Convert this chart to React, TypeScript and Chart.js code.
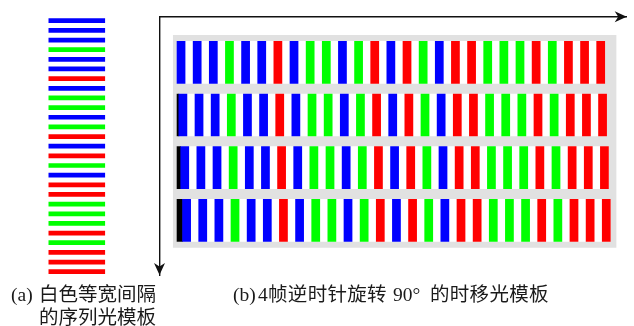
import React, { useEffect, useRef } from "react";
import { Chart, registerables } from "chart.js";

Chart.register(...registerables);

// Colour of each lit stripe in the sequence template (B = blue, G = green, R = red)
const stripeSequence = [
  "B", "B", "B", "G", "B", "B", "R", "B", "G", "G", "B", "G", "R",
  "B", "R", "G", "B", "R", "R", "G", "G", "G", "R", "G", "R", "R", "R",
];
// Frames of the time-shifted template and their shift, in stripe periods
const frames = [1, 2, 3, 4];
const frameShifts = [0, 0.115, 0.23, 0.345];
// Lit fraction of each stripe period
const stripeDuty = 0.5;

const palette: Record<string, string> = { B: "#0000ff", G: "#00ff00", R: "#ff0000" };
const FONT = '"Liberation Serif", "Noto Sans CJK SC", serif';

const axisArrows = {
  id: "axisArrows",
  afterDraw(chart: any) {
    const { ctx, chartArea: a } = chart;
    const head = (x: number, y: number, dx: number, dy: number) => {
      const L = 12, W = 5.5, N = 3.5;
      const px = -dy, py = dx;
      ctx.beginPath();
      ctx.moveTo(x, y);
      ctx.lineTo(x - dx * L + px * W, y - dy * L + py * W);
      ctx.lineTo(x - dx * (L - N), y - dy * (L - N));
      ctx.lineTo(x - dx * L - px * W, y - dy * L - py * W);
      ctx.closePath();
      ctx.fill();
    };
    ctx.save();
    ctx.fillStyle = "#111";
    head(a.right, a.top, 1, 0);
    head(a.left, a.bottom, 0, 1);
    ctx.restore();
  },
};

function SequenceTemplate() {
  const ref = useRef<HTMLCanvasElement>(null);
  useEffect(() => {
    const labels = stripeSequence.map((_, i) => String(i + 1));
    const chart = new Chart(ref.current!, {
      type: "bar",
      data: {
        labels,
        datasets: [
          {
            data: stripeSequence.map(() => [0, 1]) as any,
            backgroundColor: stripeSequence.map((c) => palette[c]),
            barPercentage: 0.49,
            categoryPercentage: 1,
          },
        ],
      },
      options: {
        indexAxis: "y",
        animation: false,
        responsive: false,
        devicePixelRatio: 1,
        events: [],
        layout: { padding: { left: 48.3, right: 528.7, top: 15.9, bottom: 49.5 } },
        plugins: { legend: { display: false }, tooltip: { enabled: false } },
        scales: {
          x: { type: "linear", min: 0, max: 1, display: false },
          y: { type: "category", display: false },
        },
      },
    });
    return () => chart.destroy();
  }, []);
  return (
    <canvas
      ref={ref}
      width={634}
      height={326}
      style={{ position: "absolute", left: 0, top: 0, pointerEvents: "none" }}
    />
  );
}

function ShiftedTemplate() {
  const ref = useRef<HTMLCanvasElement>(null);
  useEffect(() => {
    const n = stripeSequence.length;
    const stripes: any[] = [];
    const stripeColors: string[] = [];
    frames.forEach((f, i) => {
      stripeSequence.forEach((c, k) => {
        stripes.push({ x: [k + frameShifts[i], k + frameShifts[i] + stripeDuty], y: f });
        stripeColors.push(palette[c]);
      });
    });
    const rows = frames.map((f, i) => ({ x: [0, n - 1 + stripeDuty + frameShifts[i]], y: f }));
    const dark = frames
      .map((f, i) => ({ x: [0, frameShifts[i]], y: f }))
      .filter((d) => d.x[1] > 0);
    const chart = new Chart(ref.current!, {
      type: "bar",
      data: {
        datasets: [
          {
            data: [{ x: [-0.23, n + 0.2], y: (frames[0] + frames[frames.length - 1]) / 2 }] as any,
            backgroundColor: "#e1e1e1",
            barThickness: 212,
            grouped: false,
            order: 4,
          },
          {
            data: rows as any,
            backgroundColor: "#ffffff",
            barThickness: 42,
            grouped: false,
            order: 3,
          },
          {
            data: dark as any,
            backgroundColor: "#000000",
            barThickness: 42,
            grouped: false,
            order: 2,
          },
          {
            data: stripes as any,
            backgroundColor: stripeColors,
            barThickness: 42,
            grouped: false,
            order: 1,
          },
        ],
      },
      options: {
        indexAxis: "y",
        animation: false,
        responsive: false,
        devicePixelRatio: 1,
        events: [],
        layout: { padding: { left: 159.5, right: 7.3, top: 16.7, bottom: 51 } },
        plugins: { legend: { display: false }, tooltip: { enabled: false } },
        scales: {
          x: {
            type: "linear",
            position: "top",
            offset: false,
            min: -1.084,
            max: 27.86,
            grid: { display: false, drawTicks: false },
            ticks: { display: false },
            border: { display: true, color: "#111", width: 1.4 },
          },
          y: {
            type: "linear",
            position: "left",
            offset: false,
            reverse: true,
            min: 0.134,
            max: 5.038,
            grid: { display: false, drawTicks: false, offset: false },
            ticks: { display: false },
            border: { display: true, color: "#111", width: 1.4 },
          },
        },
      },
      plugins: [axisArrows],
    });
    return () => chart.destroy();
  }, []);
  return (
    <canvas
      ref={ref}
      width={634}
      height={326}
      style={{ position: "absolute", left: 0, top: 0, pointerEvents: "none" }}
    />
  );
}

const captionStyle: React.CSSProperties = {
  position: "absolute",
  fontFamily: FONT,
  fontSize: 19.5,
  lineHeight: "23px",
  color: "#1a1a1a",
  whiteSpace: "nowrap",
};

export default function App() {
  return (
    <div
      style={{
        position: "absolute",
        left: 0,
        top: 0,
        width: 634,
        height: 326,
        background: "#ffffff",
        overflow: "hidden",
      }}
    >
      <ShiftedTemplate />
      <SequenceTemplate />
      <div style={{ ...captionStyle, left: 11, top: 283 }}>(a)</div>
      <div style={{ ...captionStyle, left: 39, top: 283 }}>白色等宽间隔</div>
      <div style={{ ...captionStyle, left: 39, top: 306 }}>的序列光模板</div>
      <div style={{ ...captionStyle, left: 233, top: 283 }}>(b)</div>
      <div style={{ ...captionStyle, left: 258, top: 283, letterSpacing: 0.3 }}>4帧逆时针旋转</div>
      <div style={{ ...captionStyle, left: 393, top: 283 }}>90°</div>
      <div style={{ ...captionStyle, left: 430, top: 283, letterSpacing: 0.3 }}>的时移光模板</div>
    </div>
  );
}
